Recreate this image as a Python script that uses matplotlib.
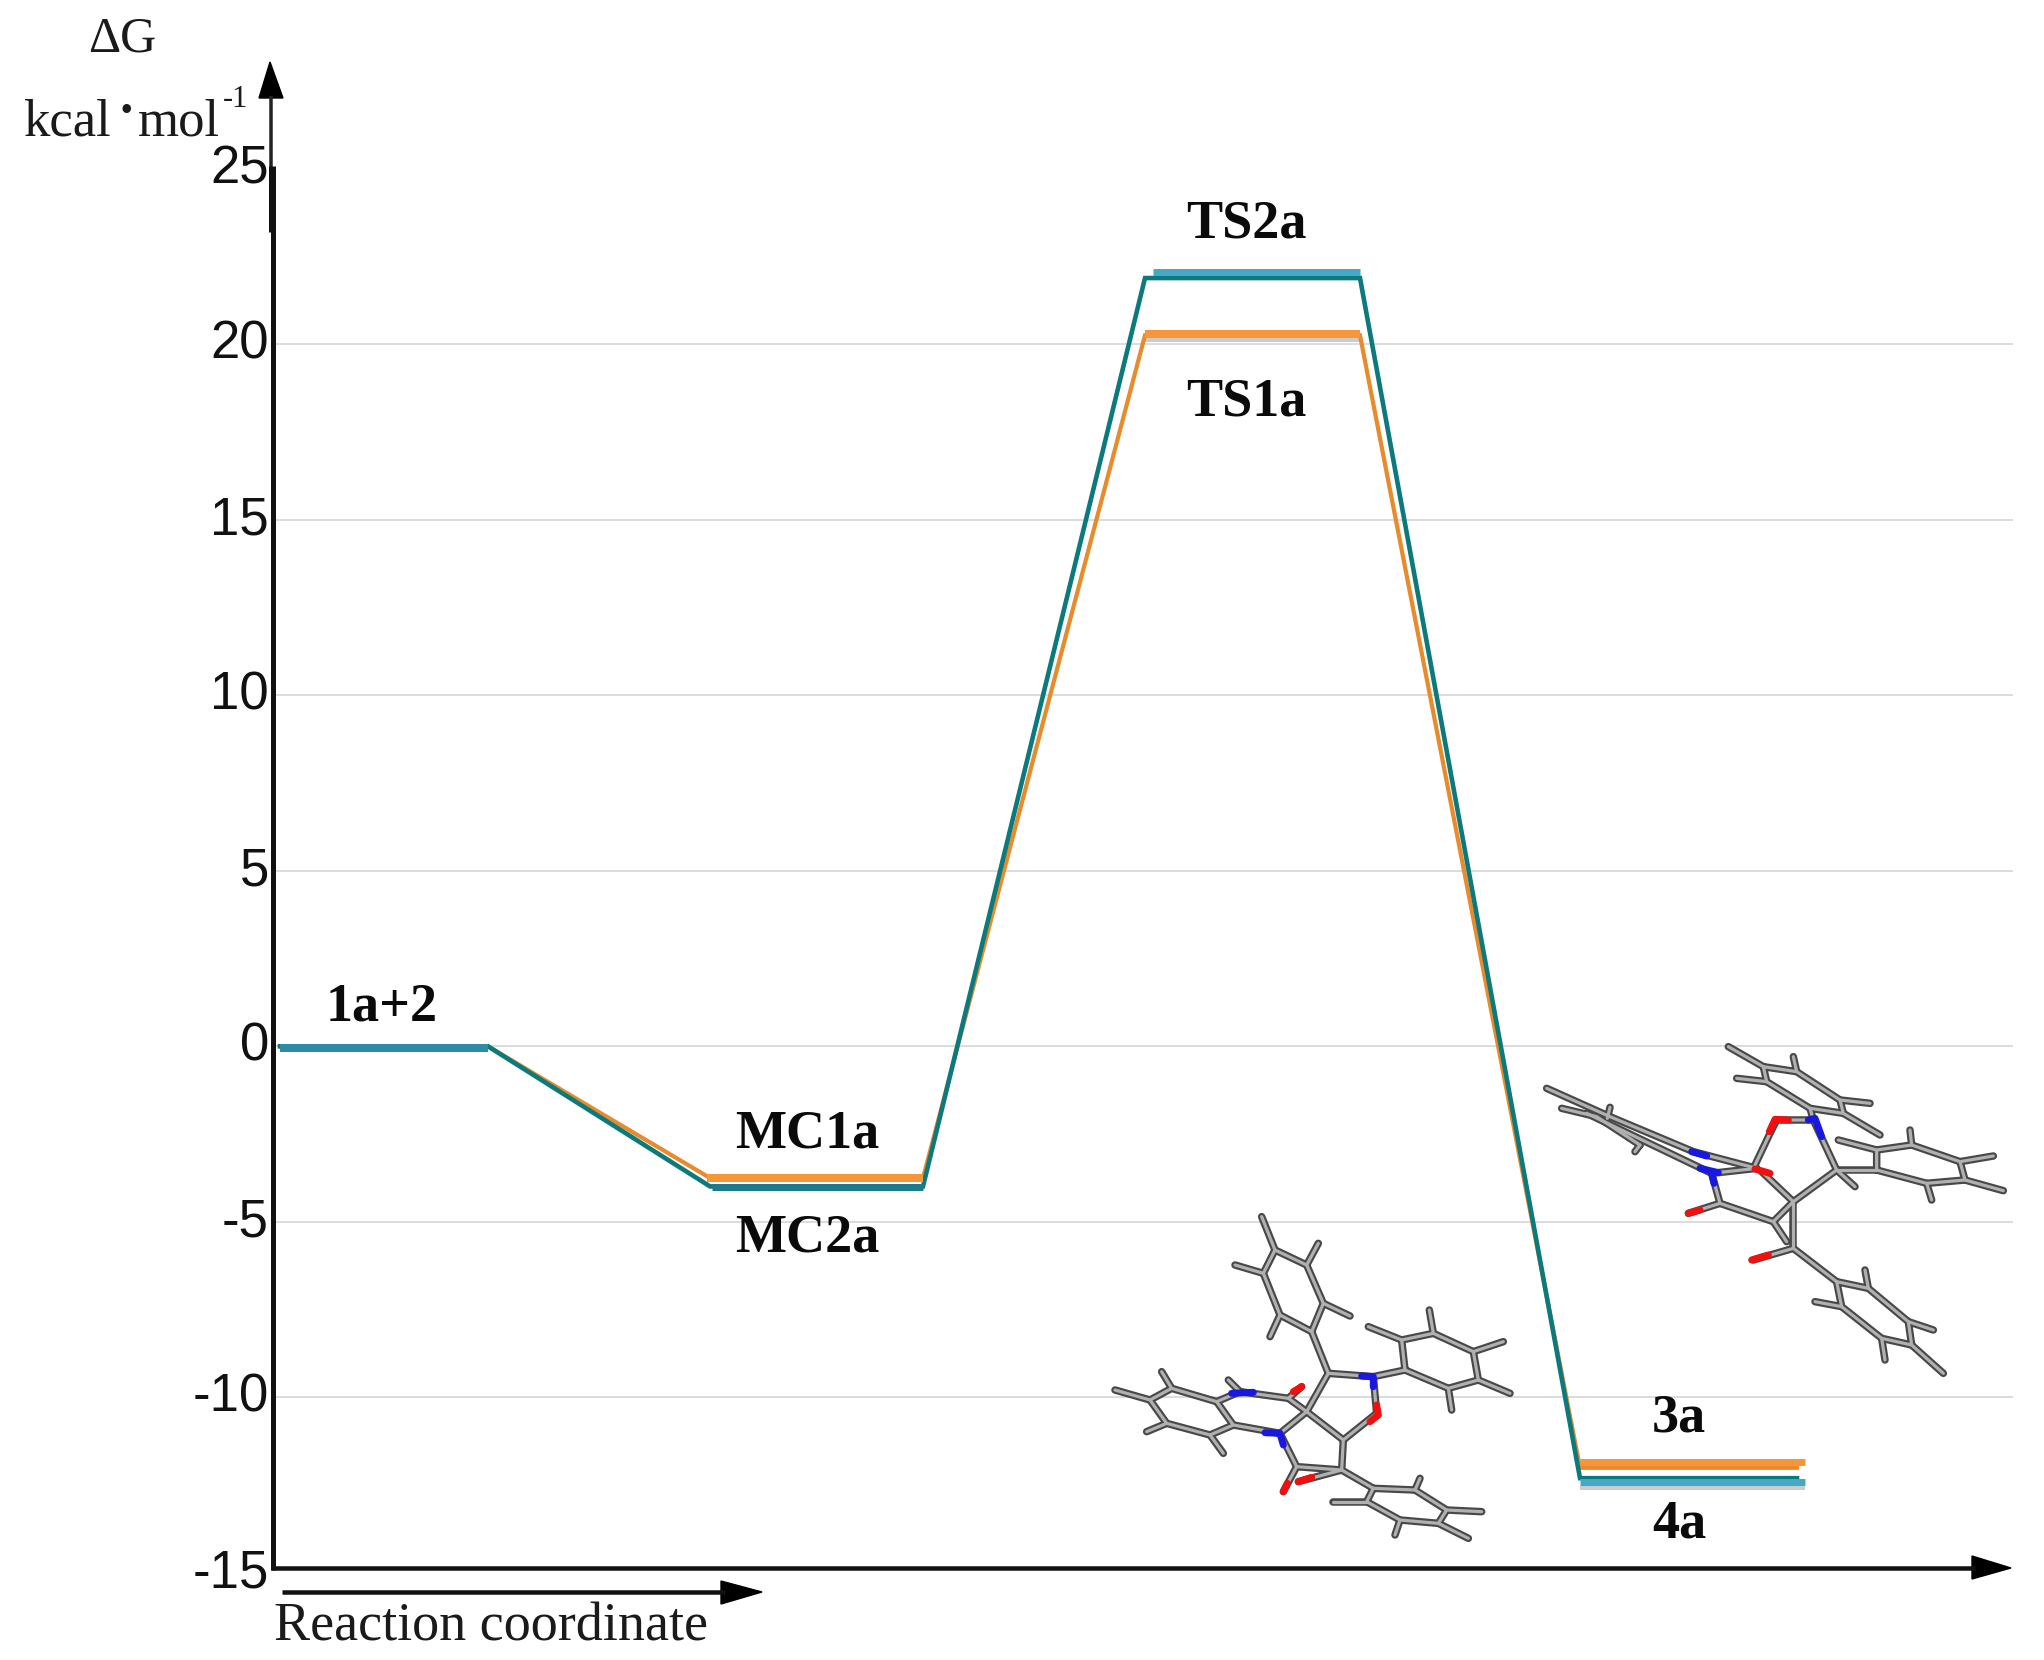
import matplotlib
matplotlib.use("Agg")
import matplotlib.pyplot as plt
from matplotlib.patches import Polygon
from matplotlib.transforms import ScaledTranslation

W, H = 2044, 1660
SERIF = "Liberation Serif"
SANS = "Liberation Sans"
PX = 0.72  # one pixel in points at dpi 100

# ---- data ----
stage_start = [0.07, 4.37, 8.72, 13.07]
stage_end = [2.15, 6.50, 10.87, 15.24]
energy_orange = [0.0, -3.75, 20.25, -12.0]
energy_teal = [0.0, -3.99, 21.88, -12.3]
bar_orange = [0.0, -3.75, 20.28, -11.85]
bar_blue = [-0.05, -4.0, 22.05, -12.42]
bar_blue_start = [0.07, 4.39, 8.80, 13.07]
bar_end = [2.15, 6.50, 10.87, 15.32]
yticks = [25, 20, 15, 10, 5, 0, -5, -10, -15]
grid_levels = [20, 15, 10, 5, 0, -5, -10]
labels = ["1a+2", "MC1a", "MC2a", "TS2a", "TS1a", "3a", "4a"]
label_x = [1.09, 5.34, 5.34, 9.73, 9.73, 14.06, 14.06]
label_y = [1.10, -2.52, -5.47, 23.4, 18.34, -10.6, -13.63]

# Molecule sticks, in crop coordinates
mol1_origin = (1080, 1180)
mol1_bonds = [
    [(695,455),(600,405),(550,280),(585,210),(680,255),(730,370),(695,455)],
    [(600,405),(570,470)], [(550,280),(465,255)], [(585,210),(545,110)],
    [(680,255),(715,190)], [(730,370),(810,408)],
    [(695,455),(745,580),(880,590)], [(745,580),(680,695)],
    [(880,590),(890,700)], [(890,700),(790,780),(680,695)],
    [(790,780),(785,870),(650,860),(600,760),(680,695)],
    [(650,860),(610,935)], [(785,870),(655,905)], [(785,870),(880,925)],
    [(880,925),(1005,930),(1100,990),(1075,1030),(960,1020),(860,965),(880,925)],
    [(1005,930),(1020,895)], [(1100,990),(1205,995)], [(1075,1030),(1165,1075)],
    [(960,1020),(945,1065)], [(860,965),(760,965)],
    [(880,590),(975,570)],
    [(975,570),(965,480),(1060,460),(1180,515),(1195,600),(1105,625),(975,570)],
    [(965,480),(865,440)], [(1060,460),(1048,390)], [(1180,515),(1270,485)],
    [(1195,600),(1290,640)], [(1105,625),(1115,690)],
    [(680,695),(625,655),(480,635)], [(625,655),(665,620)],
    [(480,635),(445,600)], [(480,635),(410,665)],
    [(410,665),(460,735),(390,765),(260,730),(210,660),(275,625),(410,665)],
    [(275,625),(245,575)], [(210,660),(105,630)], [(260,730),(200,755)],
    [(390,765),(430,820)], [(460,735),(600,760)],
]
mol1_oxygen = [[(665,620),(640,635)], [(890,675),(895,705),(870,725)],
               [(610,935),(622,910)], [(655,905),(695,892)]]
mol1_nitrogen = [[(455,640),(520,637)], [(555,758),(600,760),(610,795)],
                 [(845,588),(880,590),(880,620)]]

mol2_origin = (1520, 1020)
mol2_bonds = [
    [(730,140),(830,155),(960,240),(970,280),(870,265),(740,185),(730,140)],
    [(730,140),(625,80)], [(830,155),(820,110)], [(960,240),(1050,250)],
    [(970,280),(1080,345)], [(740,185),(650,175)], [(870,265),(880,300)],
    [(880,300),(770,300),(750,340),(705,435)],
    [(880,300),(950,450),(820,545)], [(950,450),(1070,450)],
    [(1070,450),(1070,390),(1175,375),(1320,425),(1335,480),(1220,490),(1070,450)],
    [(1070,390),(955,360)], [(1175,375),(1170,330)], [(1320,425),(1420,408)],
    [(1335,480),(1450,512)], [(1220,490),(1235,540)], [(950,450),(1005,500)],
    [(820,545),(725,455)], [(820,545),(820,685)], [(820,545),(760,605)],
    [(760,605),(600,550),(575,460),(710,445)], [(760,605),(800,665)],
    [(600,550),(505,580)], [(710,445),(520,395),(270,290),(80,205)],
    [(575,460),(200,280)], [(125,265),(230,290),(360,375)],
    [(270,262),(262,295)], [(360,375),(345,395)],
    [(820,685),(700,720)], [(820,685),(950,785)],
    [(950,785),(1045,805),(1165,905),(1175,975),(1085,955),(965,860),(950,785)],
    [(1045,805),(1035,750)], [(1165,905),(1240,930)], [(1175,975),(1270,1060)],
    [(1085,955),(1095,1020)], [(965,860),(885,845)],
]
mol2_oxygen = [[(805,300),(765,298),(748,335)], [(705,447),(750,460)],
               [(505,580),(540,570)], [(695,720),(745,705)]]
mol2_nitrogen = [[(865,300),(885,295),(905,350)], [(515,395),(560,408)],
                 [(540,445),(595,458)], [(575,460),(582,490)]]

# ---- chart axes ----
fig = plt.figure(figsize=(W / 100, H / 100), dpi=100, facecolor="white")
left, right, top, bottom = 273, 2013, 168.5, 1573
ax = fig.add_axes([left / W, 1 - bottom / H, (right - left) / W, (bottom - top) / H])
ax.set_xlim(0, (right - left) / 100)
ax.set_ylim(-15, 25)
for s in ax.spines.values():
    s.set_visible(False)
ax.patch.set_alpha(0)
ax.set_xticks([])
ax.set_yticks(yticks)
ax.set_yticklabels([str(t) for t in yticks], fontfamily=SANS, fontsize=38, color="#111111")
ax.tick_params(axis="y", length=0, pad=3)
shift = ScaledTranslation(0, 5 / 100, fig.dpi_scale_trans)
for lab in ax.get_yticklabels():
    lab.set_transform(lab.get_transform() + shift)

ax.hlines(grid_levels, 0, ax.get_xlim()[1], color="#d2d5d5", lw=1.6 * PX, zorder=1)


def path(values):
    xs, ys = [], []
    for a, b, v in zip(stage_start, stage_end, values):
        xs += [a, b]
        ys += [v, v]
    return xs, ys


ax.plot(*path(energy_orange), color="#e88b2c", lw=4.2 * PX, zorder=2, solid_joinstyle="miter")
ax.plot(*path(energy_teal), color="#0c7a7c", lw=4.6 * PX, zorder=3, solid_joinstyle="miter")

# faint shadows under the upper and lower levels
drop = ax.transData + ScaledTranslation(0, -6 / 100, fig.dpi_scale_trans)
ax.hlines(bar_orange[2], stage_start[2], bar_end[2], color="#9b9b9b", alpha=.5, lw=4 * PX, zorder=1.5, transform=drop)
ax.hlines(bar_orange[3], stage_start[3], stage_end[3], color="#9b9b9b", alpha=.5, lw=4 * PX, zorder=1.5, transform=drop)
ax.hlines(bar_blue[2], stage_start[2], bar_end[2], color="#9b9b9b", alpha=.4, lw=4 * PX, zorder=1.5, transform=drop)
ax.hlines(bar_blue[3], stage_start[3], bar_end[3], color="#9b9b9b", alpha=.5, lw=4 * PX, zorder=1.5, transform=drop)

# level bars; blue first, orange above it except at the start level
blue_colours = ["#2d8ba5", "#1f7a8c", "#45a8c4", "#45a8c4"]
for s, e, v, c in zip(bar_blue_start[1:], bar_end[1:], bar_blue[1:], blue_colours[1:]):
    ax.plot([s, e], [v, v], color=c, lw=7 * PX, solid_capstyle="butt", zorder=4)
ax.plot(stage_start[1:] and [stage_start[1] - 0.03, bar_end[1] + 0.0], [bar_orange[1]] * 2,
        color="#f79638", lw=8 * PX, solid_capstyle="butt", zorder=5)
ax.plot([stage_start[2], bar_end[2]], [bar_orange[2]] * 2,
        color="#f79638", lw=8 * PX, solid_capstyle="butt", zorder=5)
ax.plot([stage_start[3], bar_end[3]], [bar_orange[3]] * 2,
        color="#f79638", lw=7 * PX, solid_capstyle="butt", zorder=5)
ax.plot([bar_blue_start[0], bar_end[0]], [bar_blue[0]] * 2,
        color=blue_colours[0], lw=8 * PX, solid_capstyle="butt", zorder=6)

for t, x, y in zip(labels, label_x, label_y):
    ax.text(x, y, t, family=SERIF, weight="bold", fontsize=39, ha="center", va="center",
            color="#0a0a0a", zorder=7)

# ---- overlay in picture coordinates: axis arrows, unit text, molecules ----
ov = fig.add_axes([0, 0, 1, 1])
ov.set_xlim(0, W)
ov.set_ylim(H, 0)
ov.axis("off")
ov.patch.set_alpha(0)

ov.plot([273, 273], [1570, 230], color="#111111", lw=5 * PX, solid_capstyle="butt")
ov.plot([271, 271], [170, 96], color="#222222", lw=3.5 * PX, solid_capstyle="butt")
ov.plot([272, 272], [232, 166], color="#111111", lw=7 * PX, solid_capstyle="butt")
ov.add_patch(Polygon([(270, 62), (259, 98), (283, 98)], color="black"))
ov.plot([271, 1975], [1567.5, 1567.5], color="#111111", lw=4.5 * PX, solid_capstyle="butt")
ov.add_patch(Polygon([(2011, 1568), (1972, 1556), (1972, 1579)], color="black"))
ov.plot([282, 725], [1592, 1592], color="#111111", lw=4.5 * PX, solid_capstyle="butt")
ov.add_patch(Polygon([(762, 1592), (721, 1581), (721, 1604)], color="black"))

ov.text(88, 52, "\u0394G", family=SERIF, fontsize=36, color="#1a1a1a", va="baseline")
ov.text(23, 135, "kcal", family=SERIF, fontsize=38, color="#1a1a1a", va="baseline")
ov.text(126, 113, "\u00b7", family=SERIF, weight="bold", fontsize=38, color="#1a1a1a",
        va="center", ha="center")
ov.text(138, 135, "mol", family=SERIF, fontsize=38, color="#1a1a1a", va="baseline")
ov.text(223, 107, "-1", family=SERIF, fontsize=22, color="#1a1a1a", va="baseline")
ov.text(274, 1640, "Reaction coordinate", family=SERIF, fontsize=39, color="#1a1a1a", va="baseline")


def draw_molecule(origin, bonds, oxygen, nitrogen):
    ox, oy = origin

    def conv(points):
        return [ox + p[0] / 3 for p in points], [oy + p[1] / 3 for p in points]

    for b in bonds:
        xs, ys = conv(b)
        ov.plot(xs, ys, color="#484848", lw=7.5 * PX, solid_capstyle="round", zorder=7)
    for b in bonds:
        xs, ys = conv(b)
        ov.plot(xs, ys, color="#b0b0b0", lw=3.2 * PX, solid_capstyle="round", zorder=8)
    for b in oxygen:
        xs, ys = conv(b)
        ov.plot(xs, ys, color="#f01010", lw=7 * PX, solid_capstyle="round", zorder=9)
    for b in nitrogen:
        xs, ys = conv(b)
        ov.plot(xs, ys, color="#1818e0", lw=7 * PX, solid_capstyle="round", zorder=9)


draw_molecule(mol1_origin, mol1_bonds, mol1_oxygen, mol1_nitrogen)
draw_molecule(mol2_origin, mol2_bonds, mol2_oxygen, mol2_nitrogen)

fig.savefig("out.png", dpi=100, facecolor="white")
